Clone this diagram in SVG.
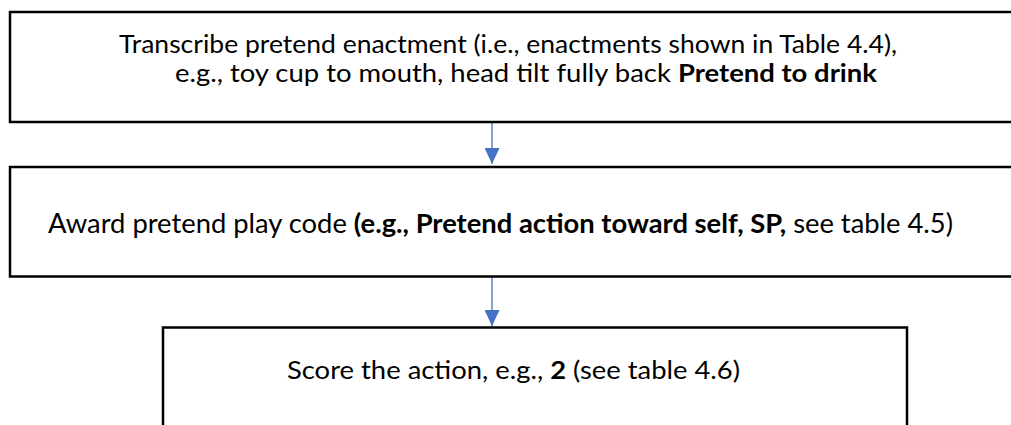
<svg xmlns="http://www.w3.org/2000/svg" width="1011" height="425" viewBox="0 0 1011 425">
  <style>
    .box { fill: #ffffff; stroke: #000000; stroke-width: 2.5; }
    .t { font-family: Lato, "Open Sans", "Liberation Sans", sans-serif; fill: #000000; }
    .b { font-weight: bold; }
    .conn { stroke: #4472C4; stroke-width: 1.3; fill: none; }
  </style>
  <defs>
    <marker id="arrow" viewBox="0 0 16 15" refX="16" refY="7.5" markerWidth="16" markerHeight="15" markerUnits="userSpaceOnUse" orient="auto">
      <path d="M0,0 L16,7.5 L0,15 Z" fill="#4472C4"/>
    </marker>
  </defs>
  <rect width="1011" height="425" fill="#ffffff"/>
  <g id="connectors">
    <line class="conn" x1="492" y1="123" x2="492" y2="164" marker-end="url(#arrow)"/>
    <line class="conn" x1="492" y1="277" x2="492" y2="326" marker-end="url(#arrow)"/>
  </g>
  <g id="node-transcribe">
    <rect class="box" x="10" y="12" width="1020" height="110"/>
    <text class="t" x="119" y="53" font-size="25" textLength="778" lengthAdjust="spacingAndGlyphs">Transcribe pretend enactment (i.e., enactments shown in Table 4.4),</text>
    <text class="t" x="175" y="82" font-size="25" textLength="702" lengthAdjust="spacingAndGlyphs">e.g., toy cup to mouth, head tilt fully back <tspan class="b">Pretend to drink</tspan></text>
  </g>
  <g id="node-award">
    <rect class="box" x="10" y="167" width="1020" height="109.5"/>
    <text class="t" x="48" y="233" font-size="27" textLength="905" lengthAdjust="spacingAndGlyphs">Award pretend play code <tspan class="b">(e.g., Pretend action toward self, SP,</tspan> see table 4.5)</text>
  </g>
  <g id="node-score">
    <rect class="box" x="163" y="327.5" width="744" height="120"/>
    <text class="t" x="287" y="379" font-size="25" textLength="453" lengthAdjust="spacingAndGlyphs">Score the action, e.g., <tspan class="b">2</tspan> (see table 4.6)</text>
  </g>
</svg>
